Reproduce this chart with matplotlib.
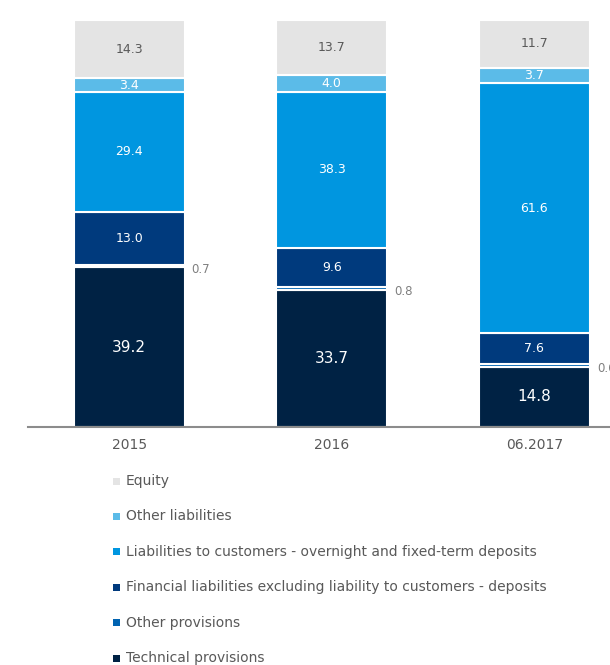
import matplotlib.pyplot as plt
import matplotlib.patches as patches
import numpy as np

periods = ['2015', '2016', '06.2017']

# stacked from the bottom up, shares of the balance sheet total in %
technical_provisions = [39.2, 33.7, 14.8]
other_provisions = [0.7, 0.8, 0.6]
financial_liabilities = [13.0, 9.6, 7.6]
customer_deposits = [29.4, 38.3, 61.6]
other_liabilities = [3.4, 4.0, 3.7]
equity = [14.3, 13.7, 11.7]

series_names = [
    'Technical provisions',
    'Other provisions',
    'Financial liabilities excluding liability to customers - deposits',
    'Liabilities to customers - overnight and fixed-term deposits',
    'Other liabilities',
    'Equity',
]
series_values = [technical_provisions, other_provisions, financial_liabilities,
                 customer_deposits, other_liabilities, equity]
colors = ['#002244', '#0063b1', '#003a7d', '#0096e0', '#5bbbe8', '#e4e4e4']
label_colors = ['white', None, 'white', 'white', 'white', '#595959']
label_sizes = [11, 9, 9, 9, 9, 9]

W, H = 610, 665
fig = plt.figure(figsize=(W / 100, H / 100), dpi=100)
ax = fig.add_axes([28 / W, 1 - 427 / H, 1 - 28 / W, (427 - 20) / H])

x = np.arange(len(periods))
bar_w = 0.548
bottom = np.zeros(len(periods))
for vals, color, lc, fs in zip(series_values, colors, label_colors, label_sizes):
    vals = np.array(vals)
    ax.bar(x, vals, bar_w, bottom=bottom, color=color,
           edgecolor='white', linewidth=1.5, zorder=2)
    for xi, b, v in zip(x, bottom, vals):
        if lc is None:
            # thin segment: value sits beside the bar
            ax.text(xi + bar_w / 2 + 0.035, b + v / 2 - 0.8, f'{v:.1f}',
                    ha='left', va='center', fontsize=8.5, color='#7f7f7f')
        else:
            ax.text(xi, b + v / 2, f'{v:.1f}', ha='center', va='center',
                    fontsize=fs, color=lc)
    bottom += vals

ax.set_xlim(-0.499, 2.373)
ax.set_ylim(0, 100)
ax.set_xticks(x)
ax.set_xticklabels(periods, fontsize=10, color='#595959')
ax.tick_params(axis='x', length=0, pad=8)
ax.set_yticks([])
for side in ['left', 'right', 'top']:
    ax.spines[side].set_visible(False)
ax.spines['bottom'].set_color('#8c8c8c')
ax.spines['bottom'].set_linewidth(1.5)

# legend, top entry is the top of the stack
legend_top = 481
row_gap = 35.4
for i, (name, color) in enumerate(zip(series_names[::-1], colors[::-1])):
    yc = legend_top + i * row_gap
    fig.patches.append(patches.Rectangle(
        (113 / W, 1 - (yc + 3.5) / H), 7 / W, 7 / H,
        transform=fig.transFigure, facecolor=color, edgecolor='none'))
    fig.text(126 / W, 1 - yc / H, name, ha='left', va='center',
             fontsize=10, color='#595959')

fig.savefig('out.png', dpi=100)
